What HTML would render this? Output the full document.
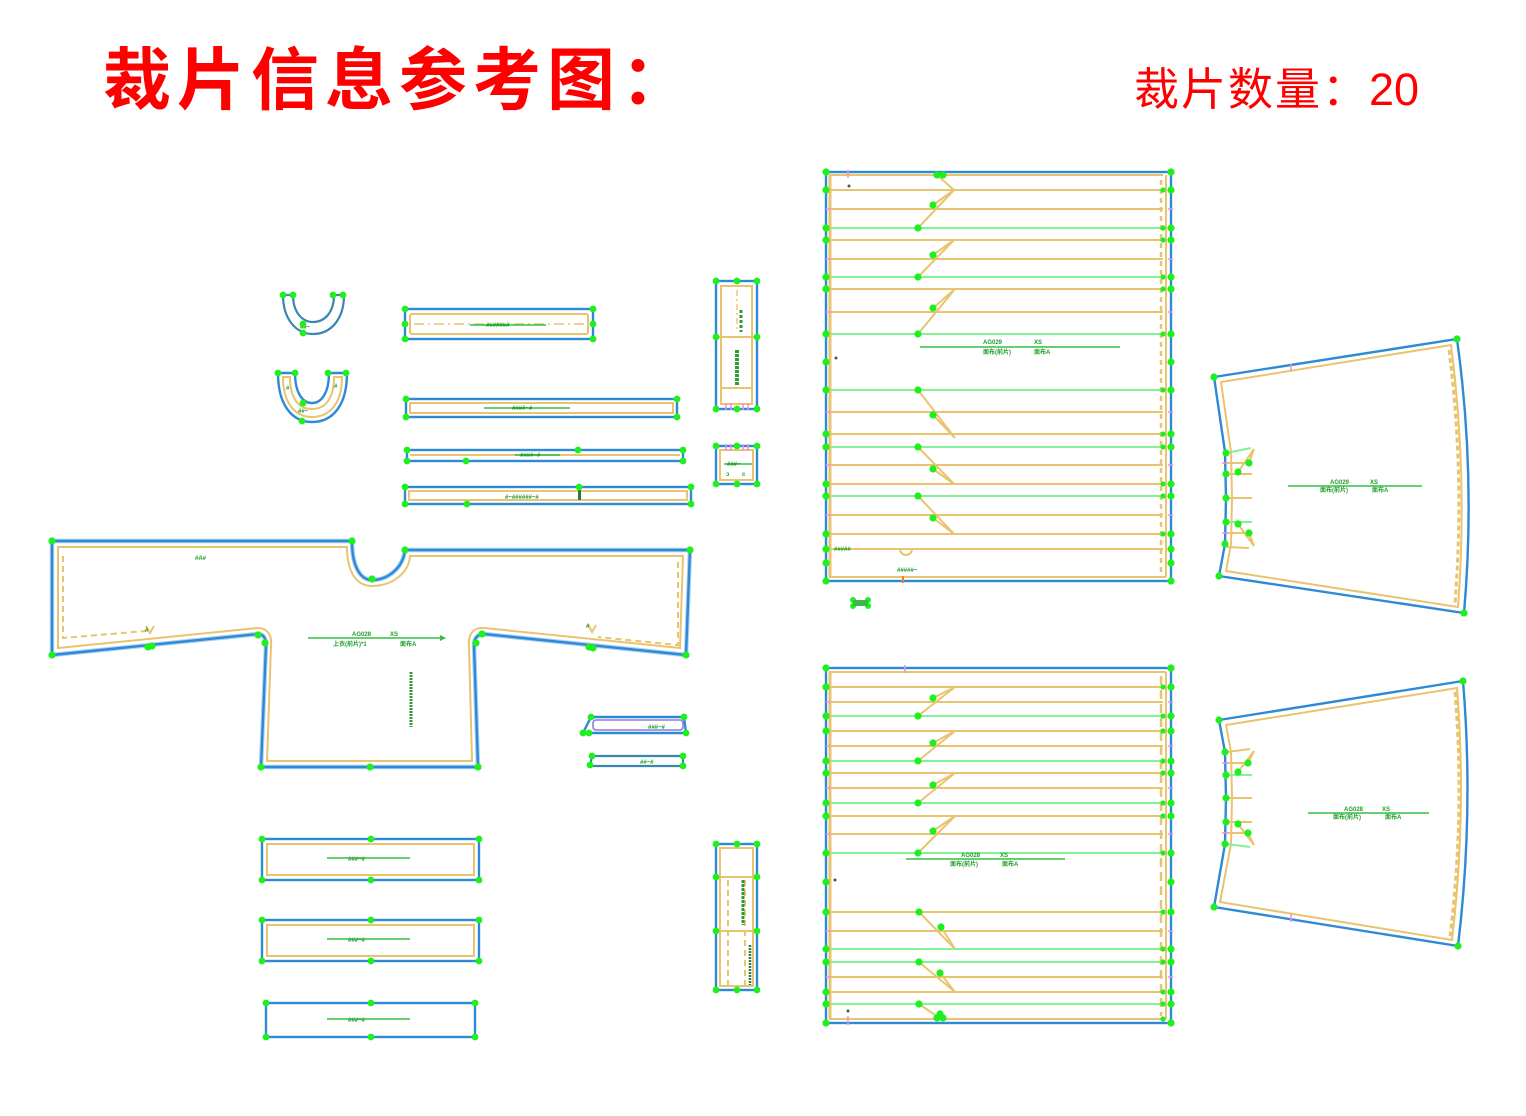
<!DOCTYPE html>
<html><head><meta charset="utf-8"><style>
html,body{margin:0;padding:0;background:#fff;}
svg{display:block}
.b{fill:none;stroke:#2e8ad4;stroke-width:2.4}
.bh{fill:none;stroke:#a8d0f2;stroke-width:4.5}
.u{fill:none;stroke:#3a86b0;stroke-width:2.2}
.t{fill:none;stroke:#e9c46f;stroke-width:2}
.td{fill:none;stroke:#e9c46f;stroke-width:2;stroke-dasharray:6 4}
.g{fill:none;stroke:#84f294;stroke-width:2}
.pk{fill:none;stroke:#f08cf0;stroke-width:1.6}
.gl{fill:none;stroke:#36be44;stroke-width:1.6}
.d circle{fill:#1df01d}
.gt{fill:#1f9e2a;font-family:"Liberation Sans","Noto Sans CJK SC",sans-serif;font-size:6px;font-weight:bold}
</style></head><body>
<svg width="1526" height="1116" viewBox="0 0 1526 1116" xmlns="http://www.w3.org/2000/svg">
<rect width="1526" height="1116" fill="#fff"/>
<text x="103" y="104" fill="#ff0000" font-family="'Liberation Sans','Noto Sans CJK SC',sans-serif" font-size="68" font-weight="bold" letter-spacing="6">裁片信息参考图：</text>
<text x="1134" y="105" fill="#ff0000" font-family="'Liberation Sans','Noto Sans CJK SC',sans-serif" font-size="45" letter-spacing="2">裁片数量：</text>
<text x="1369" y="105" fill="#ff0000" font-family="'Liberation Sans','Noto Sans CJK SC',sans-serif" font-size="45">20</text>

<!-- ===== Main body piece ===== -->
<path class="bh" d="M52,541 L352,541 C352,566 360,580 372,580 C388,580 403,568 405,550 L690,550 L686,655 L484,634 C478,634 474,638 474,645 L478,767 L261,767 L266,645 C266,638 263,634 258,634 L52,655 Z"/>
<path class="b" d="M52,541 L352,541 C352,566 360,580 372,580 C388,580 403,568 405,550 L690,550 L686,655 L484,634 C478,634 474,638 474,645 L478,767 L261,767 L266,645 C266,638 263,634 258,634 L52,655 Z"/>
<path class="t" d="M58,547 L347,547 C347,573 357,586 372,586 C392,586 409,573 410,556 L683,556 L680,648 L484,628 C472,627 468,636 469,646 L472,761 L267,761 L271,646 C272,636 268,628 258,628 L58,648 Z"/>
<path class="td" d="M63,556 L63,638 L146,631 M678,562 L678,645 L598,637"/>
<path class="t" d="M146,626 L150,633 L154,626 M588,624 L592,632 L596,625"/>
<line class="gl" x1="308" y1="638" x2="440" y2="638"/><path d="M440,635 L446,638 L440,641Z" fill="#36be44"/>
<text class="gt" x="352" y="636">AG028</text><text class="gt" x="390" y="636">XS</text>
<text class="gt" x="333" y="646">上衣(前片)*1</text><text class="gt" x="400" y="646">面布A</text>
<text class="gt" x="195" y="560">#A#</text>
<line x1="411" y1="672" x2="411" y2="727" stroke="#2f9a38" stroke-width="3" stroke-dasharray="2 1"/>
<text class="gt" x="145" y="632" font-size="5">#</text><text class="gt" x="586" y="628" font-size="5">#</text>
<g class="d">
<circle cx="52" cy="541" r="3.6"/><circle cx="352" cy="541" r="3.6"/><circle cx="372" cy="579" r="3.6"/><circle cx="405" cy="550" r="3.6"/><circle cx="690" cy="550" r="3.6"/><circle cx="686" cy="655" r="3.6"/><circle cx="589" cy="647" r="3.6"/><circle cx="593" cy="648" r="3.6"/><circle cx="482" cy="634" r="3.6"/><circle cx="476" cy="643" r="3.6"/><circle cx="478" cy="767" r="3.6"/><circle cx="370" cy="767" r="3.6"/><circle cx="261" cy="767" r="3.6"/><circle cx="265" cy="643" r="3.6"/><circle cx="258" cy="635" r="3.6"/><circle cx="148" cy="647" r="3.6"/><circle cx="152" cy="646" r="3.6"/><circle cx="52" cy="655" r="3.6"/>
</g>

<!-- ===== U pieces ===== -->
<path class="u" d="M283,295 C283,319 296,334 313,334 C331,334 344,319 344,295 L334,295 C334,312 325,322 313,322 C302,322 293,312 293,295 Z"/>
<text class="gt" x="300" y="329">##~</text>
<path class="b" d="M278,373 C278,405 292,422 312,422 C333,422 347,405 347,373 L329,373 C329,392 322,403 312,403 C302,403 295,392 295,373 Z"/>
<path class="t" d="M283,377 L290,377 C290,399 299,409 312,409 C325,409 334,399 334,377 L342,377 C342,403 330,417 312,417 C295,417 283,403 283,377 Z"/>
<text class="gt" x="298" y="413">##~</text>
<text class="gt" x="286" y="390">#</text><text class="gt" x="334" y="388">#</text>
<g class="d"><circle cx="283" cy="295" r="3.4"/><circle cx="293" cy="295" r="3.4"/><circle cx="333" cy="295" r="3.4"/><circle cx="343" cy="295" r="3.4"/><circle cx="303" cy="324" r="3.4"/><circle cx="303" cy="333" r="3.4"/>
<circle cx="278" cy="373" r="3.4"/><circle cx="295" cy="373" r="3.4"/><circle cx="328" cy="373" r="3.4"/><circle cx="346" cy="373" r="3.4"/><circle cx="303" cy="403" r="3.4"/><circle cx="302" cy="421" r="3.4"/></g>

<!-- ===== Horizontal strips ===== -->
<rect class="b" x="405" y="309" width="188" height="30"/>
<rect class="t" x="410" y="314" width="178" height="20" rx="2"/>
<line x1="414" y1="324" x2="586" y2="324" stroke="#e9c46f" stroke-width="1.6" stroke-dasharray="10 4 2 4"/>
<line class="gl" x1="470" y1="325" x2="546" y2="325"/><text class="gt" x="486" y="327" font-size="7">#######</text>
<rect class="b" x="406" y="399" width="271" height="18"/>
<rect class="t" x="410" y="403" width="263" height="10"/>
<line class="gl" x1="484" y1="408" x2="570" y2="408"/><text class="gt" x="512" y="410" font-size="7">####~#</text>
<rect class="b" x="407" y="450" width="276" height="11"/>
<line class="t" x1="410" y1="455" x2="680" y2="455"/>
<line class="gl" x1="515" y1="455" x2="560" y2="455"/><text class="gt" x="520" y="457" font-size="6">####~#</text>
<rect class="b" x="405" y="487" width="286" height="17"/>
<rect class="t" x="409" y="491" width="278" height="9"/>
<text class="gt" x="505" y="499" font-size="7">#~######~#</text><rect x="578" y="490" width="3" height="10" fill="#2f7a38"/>
<g class="d">
<circle cx="405" cy="309" r="3.4"/><circle cx="593" cy="309" r="3.4"/><circle cx="405" cy="324" r="3.4"/><circle cx="593" cy="324" r="3.4"/><circle cx="405" cy="339" r="3.4"/><circle cx="593" cy="339" r="3.4"/>
<circle cx="406" cy="399" r="3.4"/><circle cx="677" cy="399" r="3.4"/><circle cx="406" cy="417" r="3.4"/><circle cx="677" cy="417" r="3.4"/>
<circle cx="407" cy="450" r="3.4"/><circle cx="683" cy="450" r="3.4"/><circle cx="407" cy="461" r="3.4"/><circle cx="683" cy="461" r="3.4"/><circle cx="466" cy="461" r="3.4"/><circle cx="578" cy="450" r="3.4"/>
<circle cx="405" cy="487" r="3.4"/><circle cx="691" cy="487" r="3.4"/><circle cx="405" cy="504" r="3.4"/><circle cx="691" cy="504" r="3.4"/><circle cx="467" cy="504" r="3.4"/><circle cx="579" cy="487" r="3.4"/>
</g>

<!-- ===== Vertical small pieces ===== -->
<rect class="b" x="716" y="281" width="41" height="128"/>
<rect class="t" x="721" y="286" width="31" height="118"/>
<path class="t" d="M716,337 H757 M721,388 H752"/>
<line x1="737" y1="290" x2="737" y2="332" stroke="#e9c46f" stroke-width="1.4" stroke-dasharray="6 3 2 3"/>
<line x1="741" y1="310" x2="741" y2="332" stroke="#2f9a38" stroke-width="3" stroke-dasharray="3 2"/>
<line x1="737" y1="350" x2="737" y2="385" stroke="#2f9a38" stroke-width="4" stroke-dasharray="3 1"/>
<path class="pk" d="M726,403 V410 M731,403 V410 M743,403 V410 M748,403 V410"/>
<rect class="b" x="716" y="446" width="41" height="38"/>
<rect class="t" x="720" y="450" width="33" height="30"/>
<path class="pk" d="M726,444 V451 M731,444 V451 M743,444 V451 M748,444 V451"/>
<line class="gl" x1="724" y1="464" x2="752" y2="464"/><text class="gt" x="727" y="466">###~</text>
<text class="gt" x="726" y="476">ↄ</text><text class="gt" x="742" y="476">c</text>
<rect class="b" x="716" y="844" width="41" height="146"/>
<rect class="t" x="720" y="848" width="33" height="138"/>
<path class="t" d="M716,877 H757 M716,931 H757"/>
<path class="td" d="M728,880 V985 M745,880 V985" stroke-dasharray="4 3"/>
<line x1="743" y1="880" x2="743" y2="925" stroke="#2f9a38" stroke-width="3" stroke-dasharray="3 1"/>
<line x1="750" y1="945" x2="750" y2="985" stroke="#2f7a38" stroke-width="2.5" stroke-dasharray="2 1"/>
<g class="d">
<circle cx="716" cy="281" r="3.4"/><circle cx="737" cy="281" r="3.4"/><circle cx="757" cy="281" r="3.4"/><circle cx="716" cy="337" r="3.4"/><circle cx="757" cy="337" r="3.4"/><circle cx="716" cy="409" r="3.4"/><circle cx="737" cy="409" r="3.4"/><circle cx="757" cy="409" r="3.4"/>
<circle cx="716" cy="446" r="3.4"/><circle cx="737" cy="446" r="3.4"/><circle cx="757" cy="446" r="3.4"/><circle cx="716" cy="484" r="3.4"/><circle cx="737" cy="484" r="3.4"/><circle cx="757" cy="484" r="3.4"/>
<circle cx="716" cy="844" r="3.4"/><circle cx="737" cy="844" r="3.4"/><circle cx="757" cy="844" r="3.4"/><circle cx="716" cy="877" r="3.4"/><circle cx="757" cy="877" r="3.4"/><circle cx="716" cy="931" r="3.4"/><circle cx="757" cy="931" r="3.4"/><circle cx="716" cy="990" r="3.4"/><circle cx="737" cy="990" r="3.4"/><circle cx="757" cy="990" r="3.4"/>
</g>

<!-- ===== Small pieces near body ===== -->
<path class="b" d="M591,717 L684,717 L686,733 L583,733 Z"/>
<rect x="593" y="720" width="90" height="10" rx="3" fill="none" stroke="#8a7ae6" stroke-width="1.6"/>
<text class="gt" x="648" y="729" font-size="7">###~#</text>
<path class="u" d="M592,756 L683,756 L683,766 L590,766 Z"/>
<text class="gt" x="640" y="764" font-size="6">##~#</text>
<g class="d"><circle cx="591" cy="717" r="3.4"/><circle cx="684" cy="717" r="3.4"/><circle cx="583" cy="733" r="3.4"/><circle cx="589" cy="733" r="3.4"/><circle cx="686" cy="733" r="3.4"/>
<circle cx="592" cy="756" r="3.4"/><circle cx="683" cy="756" r="3.4"/><circle cx="590" cy="765" r="3.4"/><circle cx="683" cy="766" r="3.4"/></g>

<!-- ===== Bottom-left rects ===== -->
<rect class="b" x="262" y="839" width="217" height="41"/>
<rect class="t" x="267" y="844" width="207" height="31"/>
<line class="gl" x1="327" y1="858" x2="410" y2="858"/><text class="gt" x="348" y="861" font-size="7">###~#</text>
<rect class="b" x="262" y="920" width="217" height="41"/>
<rect class="t" x="267" y="925" width="207" height="31"/>
<line class="gl" x1="327" y1="939" x2="410" y2="939"/><text class="gt" x="348" y="942" font-size="7">###~#</text>
<rect class="b" x="266" y="1003" width="209" height="34"/>
<line class="gl" x1="327" y1="1019" x2="410" y2="1019"/><text class="gt" x="348" y="1022" font-size="7">###~#</text>
<g class="d">
<circle cx="262" cy="839" r="3.4"/><circle cx="371" cy="839" r="3.4"/><circle cx="479" cy="839" r="3.4"/><circle cx="262" cy="880" r="3.4"/><circle cx="371" cy="880" r="3.4"/><circle cx="479" cy="880" r="3.4"/>
<circle cx="262" cy="920" r="3.4"/><circle cx="371" cy="920" r="3.4"/><circle cx="479" cy="920" r="3.4"/><circle cx="262" cy="961" r="3.4"/><circle cx="371" cy="961" r="3.4"/><circle cx="479" cy="961" r="3.4"/>
<circle cx="266" cy="1003" r="3.4"/><circle cx="371" cy="1003" r="3.4"/><circle cx="475" cy="1003" r="3.4"/><circle cx="266" cy="1037" r="3.4"/><circle cx="371" cy="1037" r="3.4"/><circle cx="475" cy="1037" r="3.4"/>
</g>

<!-- ===== Top big panel ===== -->
<path class="t" d="M829,175H1163M829,190H1163M829,209H1163M829,240H1163M829,259H1163M829,289H1163M829,312H1163M829,412H1163M829,434H1163M829,465H1163M829,484H1163M829,515H1163M829,534H1163M829,549H1163M829,577H1166"/>
<path class="g" d="M829,228H1163M829,277H1163M829,334H1163M829,390H1163M829,447H1163M829,496H1163"/>
<line x1="830" y1="175" x2="830" y2="577" stroke="#e9c46f" stroke-width="3"/>
<line x1="1166" y1="175" x2="1166" y2="577" stroke="#e9c46f" stroke-width="2"/>
<line x1="1161" y1="180" x2="1161" y2="575" stroke="#e9c46f" stroke-width="2.5" stroke-dasharray="5 4"/>
<rect class="b" x="826" y="172" width="345" height="409"/>
<path class="t" d="M937,175 L954,190 L933,205 M954,190 L918,228 M954,240 L933,255 M954,240 L918,277 M955,289 L933,308 M955,289 L918,334 M918,390 L955,438 M933,415 L955,438 M918,447 L954,484 M933,469 L954,484 M918,496 L954,534 M933,518 L954,534"/>
<path class="t" d="M900,549 A6,6 0 0 0 912,549"/>
<path class="pk" d="M848,170 V178 M826,209 H831 M826,259 H831 M826,312 H831 M826,412 H831 M826,465 H831 M826,515 H831 M1168,209 H1173 M1168,259 H1173 M1168,312 H1173 M1168,412 H1173 M1168,465 H1173 M1168,515 H1173"/>
<line x1="903" y1="576" x2="903" y2="583" stroke="#f08020" stroke-width="2"/>
<line class="gl" x1="920" y1="347" x2="1120" y2="347"/>
<text class="gt" x="983" y="344">AG029</text><text class="gt" x="1034" y="344">XS</text>
<text class="gt" x="983" y="354">面布(前片)</text><text class="gt" x="1034" y="354">面布A</text>
<text class="gt" x="834" y="551">#####</text><text class="gt" x="897" y="572">#####~</text>
<circle cx="849" cy="186" r="1.5" fill="#2f6a38"/><circle cx="836" cy="358" r="1.5" fill="#2f6a38"/>
<g class="d">
<circle cx="826" cy="172" r="3.6"/><circle cx="826" cy="190" r="3.6"/><circle cx="826" cy="228" r="3.6"/><circle cx="826" cy="240" r="3.6"/><circle cx="826" cy="277" r="3.6"/><circle cx="826" cy="289" r="3.6"/><circle cx="826" cy="334" r="3.6"/><circle cx="826" cy="362" r="3.6"/><circle cx="826" cy="390" r="3.6"/><circle cx="826" cy="434" r="3.6"/><circle cx="826" cy="447" r="3.6"/><circle cx="826" cy="484" r="3.6"/><circle cx="826" cy="496" r="3.6"/><circle cx="826" cy="534" r="3.6"/><circle cx="826" cy="549" r="3.6"/><circle cx="826" cy="563" r="3.6"/><circle cx="826" cy="581" r="3.6"/>
<circle cx="1171" cy="172" r="3.6"/><circle cx="1171" cy="190" r="3.6"/><circle cx="1171" cy="228" r="3.6"/><circle cx="1171" cy="240" r="3.6"/><circle cx="1171" cy="277" r="3.6"/><circle cx="1171" cy="289" r="3.6"/><circle cx="1171" cy="334" r="3.6"/><circle cx="1171" cy="362" r="3.6"/><circle cx="1171" cy="390" r="3.6"/><circle cx="1171" cy="434" r="3.6"/><circle cx="1171" cy="447" r="3.6"/><circle cx="1171" cy="484" r="3.6"/><circle cx="1171" cy="496" r="3.6"/><circle cx="1171" cy="534" r="3.6"/><circle cx="1171" cy="549" r="3.6"/><circle cx="1171" cy="563" r="3.6"/><circle cx="1171" cy="581" r="3.6"/>
<circle cx="1163" cy="190" r="2.6"/><circle cx="1163" cy="228" r="2.6"/><circle cx="1163" cy="240" r="2.6"/><circle cx="1163" cy="277" r="2.6"/><circle cx="1163" cy="289" r="2.6"/><circle cx="1163" cy="334" r="2.6"/><circle cx="1163" cy="390" r="2.6"/><circle cx="1163" cy="434" r="2.6"/><circle cx="1163" cy="447" r="2.6"/><circle cx="1163" cy="484" r="2.6"/><circle cx="1163" cy="496" r="2.6"/><circle cx="1163" cy="534" r="2.6"/>
<circle cx="937" cy="175" r="3.6"/><circle cx="943" cy="175" r="3.6"/><circle cx="933" cy="205" r="3.6"/><circle cx="918" cy="228" r="3.6"/><circle cx="933" cy="255" r="3.6"/><circle cx="918" cy="277" r="3.6"/><circle cx="933" cy="308" r="3.6"/><circle cx="918" cy="334" r="3.6"/>
<circle cx="918" cy="390" r="3.6"/><circle cx="933" cy="415" r="3.6"/><circle cx="918" cy="447" r="3.6"/><circle cx="933" cy="469" r="3.6"/><circle cx="918" cy="496" r="3.6"/><circle cx="933" cy="518" r="3.6"/>
<circle cx="853" cy="600" r="3"/><circle cx="868" cy="600" r="3"/><circle cx="853" cy="606" r="3"/><circle cx="868" cy="606" r="3"/>
</g>
<rect x="853" y="600" width="15" height="6" fill="#3cb84a"/>

<!-- ===== Bottom big panel ===== -->
<path class="t" d="M829,672H1166M829,687H1163M829,702H1163M829,731H1163M829,746H1163M829,773H1163M829,788H1163M829,816H1163M829,834H1163M829,912H1163M829,931H1163M829,977H1163M829,992H1163M829,1019H1166"/>
<path class="g" d="M829,716H1163M829,761H1163M829,803H1163M829,853H1163M829,949H1163M829,962H1163M829,1004H1163"/>
<line x1="830" y1="672" x2="830" y2="1019" stroke="#e9c46f" stroke-width="3"/>
<line x1="1166" y1="672" x2="1166" y2="1019" stroke="#e9c46f" stroke-width="2"/>
<line x1="1161" y1="676" x2="1161" y2="1016" stroke="#e9c46f" stroke-width="2.5" stroke-dasharray="9 5"/>
<rect class="b" x="826" y="668" width="345" height="355"/>
<path class="t" d="M955,687 L933,698 M955,687 L918,716 M955,731 L933,743 M955,731 L918,761 M955,773 L933,785 M955,773 L918,803 M955,816 L933,831 M955,816 L918,853 M919,912 L955,949 M941,927 L955,949 M919,962 L955,992 M940,973 L955,992 M919,1004 L938,1017"/>
<path class="pk" d="M905,665 V673 M826,702 H831 M826,746 H831 M826,788 H831 M826,834 H831 M826,931 H831 M826,977 H831 M1168,702 H1173 M1168,746 H1173 M1168,788 H1173 M1168,834 H1173 M1168,931 H1173 M1168,977 H1173 M848,1016 V1025"/>
<line class="gl" x1="906" y1="859" x2="1065" y2="859"/>
<text class="gt" x="961" y="857">AG028</text><text class="gt" x="1000" y="857">XS</text>
<text class="gt" x="950" y="866">面布(前片)</text><text class="gt" x="1002" y="866">面布A</text>
<circle cx="835" cy="880" r="1.5" fill="#2f6a38"/><circle cx="848" cy="1011" r="1.5" fill="#2f6a38"/>
<g class="d">
<circle cx="826" cy="668" r="3.6"/><circle cx="826" cy="687" r="3.6"/><circle cx="826" cy="716" r="3.6"/><circle cx="826" cy="731" r="3.6"/><circle cx="826" cy="761" r="3.6"/><circle cx="826" cy="773" r="3.6"/><circle cx="826" cy="803" r="3.6"/><circle cx="826" cy="816" r="3.6"/><circle cx="826" cy="853" r="3.6"/><circle cx="826" cy="882" r="3.6"/><circle cx="826" cy="912" r="3.6"/><circle cx="826" cy="949" r="3.6"/><circle cx="826" cy="962" r="3.6"/><circle cx="826" cy="992" r="3.6"/><circle cx="826" cy="1004" r="3.6"/><circle cx="826" cy="1023" r="3.6"/>
<circle cx="1171" cy="668" r="3.6"/><circle cx="1171" cy="687" r="3.6"/><circle cx="1171" cy="716" r="3.6"/><circle cx="1171" cy="731" r="3.6"/><circle cx="1171" cy="761" r="3.6"/><circle cx="1171" cy="773" r="3.6"/><circle cx="1171" cy="803" r="3.6"/><circle cx="1171" cy="816" r="3.6"/><circle cx="1171" cy="853" r="3.6"/><circle cx="1171" cy="882" r="3.6"/><circle cx="1171" cy="912" r="3.6"/><circle cx="1171" cy="949" r="3.6"/><circle cx="1171" cy="962" r="3.6"/><circle cx="1171" cy="992" r="3.6"/><circle cx="1171" cy="1004" r="3.6"/><circle cx="1171" cy="1023" r="3.6"/>
<circle cx="1163" cy="687" r="2.6"/><circle cx="1163" cy="716" r="2.6"/><circle cx="1163" cy="731" r="2.6"/><circle cx="1163" cy="761" r="2.6"/><circle cx="1163" cy="773" r="2.6"/><circle cx="1163" cy="803" r="2.6"/><circle cx="1163" cy="816" r="2.6"/><circle cx="1163" cy="853" r="2.6"/><circle cx="1163" cy="912" r="2.6"/><circle cx="1163" cy="949" r="2.6"/><circle cx="1163" cy="962" r="2.6"/><circle cx="1163" cy="992" r="2.6"/><circle cx="1163" cy="1004" r="2.6"/><circle cx="1163" cy="1019" r="2.6"/>
<circle cx="933" cy="698" r="3.6"/><circle cx="918" cy="716" r="3.6"/><circle cx="933" cy="743" r="3.6"/><circle cx="918" cy="761" r="3.6"/><circle cx="933" cy="785" r="3.6"/><circle cx="918" cy="803" r="3.6"/><circle cx="933" cy="831" r="3.6"/><circle cx="918" cy="853" r="3.6"/>
<circle cx="919" cy="912" r="3.6"/><circle cx="941" cy="927" r="3.6"/><circle cx="919" cy="962" r="3.6"/><circle cx="940" cy="973" r="3.6"/><circle cx="919" cy="1004" r="3.6"/><circle cx="937" cy="1018" r="3.6"/><circle cx="943" cy="1018" r="3.6"/><circle cx="940" cy="1014" r="3.6"/>
</g>

<!-- ===== Top sleeve ===== -->
<path class="b" d="M1214,377 L1457,339 Q1476,476 1464,613 L1219,576 L1225,544 L1226,498 L1225,452 Z"/>
<path class="t" d="M1221,382 L1451,345 Q1468,476 1458,607 L1226,571 L1231,544 L1232,498 L1231,452 Z"/>
<path d="M1449,350 Q1465,476 1455,603" fill="none" stroke="#e9c46f" stroke-width="3" stroke-dasharray="5 3"/>
<path class="g" d="M1226,453 L1251,448 M1227,522 L1252,522"/>
<path class="t" d="M1227,463 H1247 M1227,474 H1252 M1227,498 H1252 M1227,533 H1249 M1227,547 L1249,548 M1254,449 L1238,472 M1254,449 L1249,463 M1238,524 L1254,546 M1249,533 L1254,546"/>
<path class="pk" d="M1291,364 V371 M1222,463 H1228 M1222,533 H1228"/>
<line class="gl" x1="1288" y1="486" x2="1422" y2="486"/>
<text class="gt" x="1330" y="484">AG029</text><text class="gt" x="1370" y="484">XS</text>
<text class="gt" x="1320" y="492">面布(前片)</text><text class="gt" x="1372" y="492">面布A</text>
<g class="d">
<circle cx="1214" cy="377" r="3.6"/><circle cx="1457" cy="339" r="3.6"/><circle cx="1464" cy="613" r="3.6"/><circle cx="1219" cy="576" r="3.6"/>
<circle cx="1226" cy="453" r="3.6"/><circle cx="1226" cy="474" r="3.6"/><circle cx="1226" cy="498" r="3.6"/><circle cx="1226" cy="522" r="3.6"/><circle cx="1225" cy="544" r="3.6"/>
<circle cx="1249" cy="463" r="3.6"/><circle cx="1238" cy="472" r="3.6"/><circle cx="1238" cy="524" r="3.6"/><circle cx="1249" cy="533" r="3.6"/>
</g>

<!-- ===== Bottom sleeve ===== -->
<path class="b" d="M1219,720 L1463,681 Q1474,813 1458,946 L1214,907 L1225,844 L1226,798 L1225,752 Z"/>
<path class="t" d="M1226,725 L1457,688 Q1467,813 1452,940 L1220,902 L1231,844 L1232,798 L1231,752 Z"/>
<path d="M1455,692 Q1465,813 1450,936" fill="none" stroke="#e9c46f" stroke-width="3" stroke-dasharray="5 3"/>
<path class="g" d="M1227,775 H1252 M1227,844 L1250,847"/>
<path class="t" d="M1227,752 L1250,749 M1227,798 H1252 M1227,822 H1252 M1254,751 L1248,763 M1254,751 L1238,772 M1238,824 L1254,845 M1248,833 L1254,845 M1227,763 H1248 M1227,833 H1248"/>
<path class="pk" d="M1291,914 V922 M1222,763 H1228 M1222,833 H1228"/>
<line class="gl" x1="1308" y1="813" x2="1429" y2="813"/>
<text class="gt" x="1344" y="811">AG028</text><text class="gt" x="1382" y="811">XS</text>
<text class="gt" x="1333" y="819">面布(前片)</text><text class="gt" x="1385" y="819">面布A</text>
<g class="d">
<circle cx="1219" cy="720" r="3.6"/><circle cx="1463" cy="681" r="3.6"/><circle cx="1458" cy="946" r="3.6"/><circle cx="1214" cy="907" r="3.6"/>
<circle cx="1225" cy="752" r="3.6"/><circle cx="1226" cy="775" r="3.6"/><circle cx="1226" cy="798" r="3.6"/><circle cx="1226" cy="822" r="3.6"/><circle cx="1225" cy="844" r="3.6"/>
<circle cx="1248" cy="763" r="3.6"/><circle cx="1238" cy="772" r="3.6"/><circle cx="1238" cy="824" r="3.6"/><circle cx="1248" cy="833" r="3.6"/>
</g>
</svg>
</body></html>
